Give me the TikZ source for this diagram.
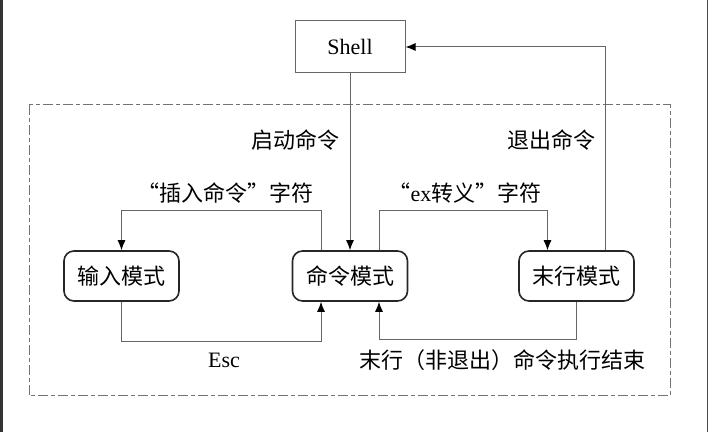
\documentclass[tikz,border=0pt]{standalone}
\usepackage{fontspec}
\setmainfont{Liberation Serif}
\newfontfamily\cjk{Noto Sans CJK SC}
\usetikzlibrary{positioning,arrows.meta}
\tikzset{
  mode/.style   = {shape=rectangle, rounded corners=5pt,
                   draw=black!85, line width=0.8pt, align=center,
                   minimum width=57.5pt, minimum height=25pt,
                   font=\cjk\fontsize{11}{13}\selectfont},
  shellbox/.style = {shape=rectangle, draw=black!60, line width=0.5pt,
                   minimum width=55pt, minimum height=26pt,
                   font=\fontsize{11}{13}\selectfont},
  lbl/.style    = {inner sep=0pt, font=\cjk\fontsize{11}{13}\selectfont},
  trans/.style  = {draw=black!60, line width=0.5pt,
                   -{Latex[length=5pt,width=4pt,color=black]}},
  region/.style = {draw=black!55, line width=0.5pt,
                   dash pattern=on 5pt off 1.5pt on 2pt off 1.5pt}
}

\begin{document}
\begin{tikzpicture}
  [
  x = 0.5pt, y = -0.5pt
  ]
  \useasboundingbox (0,0) rectangle (713,432);
  % edges of the page
  \fill[black!80] (0,0) rectangle (3,432);
  \draw[black!70, line width=0.5pt] (707.5,0) -- (707.5,432);

  % states
  \node[shellbox] (shell) at (350,47)    {Shell};
  \node[mode]     (input) at (121.5,276) {输入模式};
  \node[mode]     (cmd)   at (350,276)   {命令模式};
  \node[mode]     (last)  at (576.5,276) {末行模式};

  % vi
  \draw[region] (29,105) rectangle (670,396);

  % transitions
  \draw[trans] (shell) -- (cmd);
  \draw[trans] ([xshift=-14.5pt]cmd.north) -- ++(0,-40) -| (input.north);
  \draw[trans] (input.south) -- ++(0,40) -| ([xshift=-14.5pt]cmd.south);
  \draw[trans] ([xshift=14.5pt]cmd.north) -- ++(0,-40) -| ([xshift=-14.5pt]last.north);
  \draw[trans] ([xshift=14.5pt]last.north) |- (shell.east);
  \draw[trans] (last.south) -- ++(0,38) -| ([xshift=14.5pt]cmd.south);

  % labels
  \node[lbl] (start)  at (295,140) {启动命令};
  \node[lbl] (quit)   at (551,140) {退出命令};
  \node[lbl] (insert) at (225,193) {“插入命令”字符};
  \node[lbl] (escex)  at (465,193) {“{\rmfamily ex}转义”字符};
  \node[lbl, font=\fontsize{11}{13}\selectfont] (esc) at (224,360) {Esc};
  \node[lbl] (done)   at (502,360) {末行（非退出）命令执行结束};
\end{tikzpicture}
\end{document}
